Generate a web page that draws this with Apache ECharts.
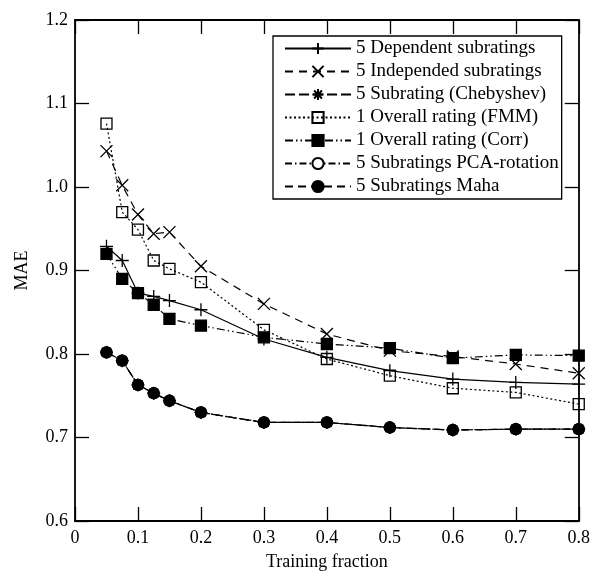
<!DOCTYPE html>
<html lang="en">
<head>
    <meta charset="UTF-8">
    <title>MAE vs training fraction</title>
    <script src="https://cdn.jsdelivr.net/npm/echarts@6/dist/echarts.min.js"></script>
    <style>
        html, body { margin: 0; padding: 0; background: #fff; }
    </style>
</head>
<body>
    <div id="main" style="width: 593px;height:576px;"></div>

    <script type="text/javascript">

        // training fractions (x)
        var fractions = [0.05, 0.075, 0.1, 0.125, 0.15, 0.2, 0.3, 0.4, 0.5, 0.6, 0.7, 0.8]

        // MAE per method
        var dependent   = [0.929, 0.912, 0.873, 0.869, 0.864, 0.853, 0.818, 0.796, 0.780, 0.770, 0.766, 0.764]
        var independent = [1.043, 1.002, 0.967, 0.944, 0.946, 0.905, 0.860, 0.824, 0.804, 0.797, 0.788, 0.777]
        var chebyshev   = [0.802, 0.792, 0.763, 0.753, 0.744, 0.730, 0.718, 0.718, 0.712, 0.709, 0.710, 0.710]
        var fmm         = [1.076, 0.970, 0.949, 0.912, 0.902, 0.886, 0.829, 0.794, 0.774, 0.759, 0.754, 0.740]
        var corr        = [0.920, 0.890, 0.873, 0.859, 0.842, 0.834, 0.820, 0.812, 0.807, 0.795, 0.799, 0.798]
        var pca         = [0.802, 0.792, 0.763, 0.753, 0.744, 0.730, 0.718, 0.718, 0.712, 0.709, 0.710, 0.710]
        var maha        = [0.802, 0.792, 0.763, 0.753, 0.744, 0.730, 0.718, 0.718, 0.712, 0.709, 0.710, 0.710]

        var names = [
            '5 Dependent subratings',
            '5 Independed subratings',
            '5 Subrating (Chebyshev)',
            '1 Overall rating (FMM)',
            '1 Overall rating (Corr)',
            '5 Subratings PCA-rotation',
            '5 Subratings Maha'
        ]

        var font = 'Liberation Serif, Times New Roman, serif'

        function pairs(ys) {
            var out = []
            for (var i = 0; i < fractions.length; i++) out.push([fractions[i], ys[i]])
            return out
        }

        // symbol + dash per series
        var styles = [
            { data: dependent,   symbol: 'path://M6 0V12M0 6H12', size: 13, fill: 'rgba(0,0,0,0)', dash: 'solid' },
            { data: independent, symbol: 'path://M0 0L12 12M12 0L0 12', size: 12, fill: 'rgba(0,0,0,0)', dash: [8, 6] },
            { data: chebyshev,   symbol: 'path://M6 0V12M0 6H12M1.8 1.8L10.2 10.2M10.2 1.8L1.8 10.2', size: 13, fill: 'rgba(0,0,0,0)', dash: [10, 4] },
            { data: fmm,         symbol: 'rect', size: 11, fill: 'rgba(255,255,255,0)', dash: [2, 2.5] },
            { data: corr,        symbol: 'rect', size: 11, fill: '#000', dash: [8, 3, 1.5, 3, 1.5, 3] },
            { data: pca,         symbol: 'circle', size: 11, fill: '#fff', dash: [7, 3, 1.5, 3] },
            { data: maha,        symbol: 'circle', size: 11, fill: '#000', dash: [8, 5] }
        ]

        var series = []
        styles.forEach(function (s, i) {
            series.push({
                name: names[i],
                type: 'line',
                data: pairs(s.data),
                symbol: s.symbol,
                symbolSize: s.size,
                showSymbol: true,
                showAllSymbol: true,
                lineStyle: { color: '#000', width: 1.2, type: s.dash },
                itemStyle: { color: s.fill, borderColor: '#000', borderWidth: 1.3 },
                emphasis: { disabled: true },
                z: 2 + i
            })
        })

        var tickStyle = { show: true, inside: true, length: 14, lineStyle: { color: '#000', width: 1.3 } }
        var axisLine = { show: true, onZero: false, lineStyle: { color: '#000', width: 1.8 } }

        var myChart = echarts.init(document.getElementById('main'))

        var option = {
            animation: false,
            backgroundColor: '#fff',
            grid: { left: 75, right: 13, top: 20, bottom: 54 },
            legend: {
                data: names,
                orient: 'vertical',
                left: 273,
                top: 36,
                padding: [3, 3, 3, 11],
                itemWidth: 66,
                itemHeight: 14,
                itemGap: 4,
                borderColor: '#000',
                borderWidth: 1.3,
                textStyle: { fontFamily: font, fontSize: 19, color: '#000' }
            },
            xAxis: [{
                type: 'value',
                min: 0, max: 0.8, interval: 0.1,
                name: 'Training fraction',
                nameLocation: 'middle',
                nameGap: 32,
                nameTextStyle: { fontFamily: font, fontSize: 18, color: '#000' },
                axisLine: axisLine,
                axisTick: tickStyle,
                splitLine: { show: false },
                axisLabel: {
                    fontFamily: font, fontSize: 18, color: '#000', margin: 8,
                    formatter: function (v) { return v === 0 ? '0' : v.toFixed(1) }
                }
            }, {
                type: 'value', position: 'top',
                min: 0, max: 0.8, interval: 0.1,
                axisLine: axisLine,
                axisTick: tickStyle,
                splitLine: { show: false },
                axisLabel: { show: false }
            }],
            yAxis: [{
                type: 'value',
                min: 0.6, max: 1.2, interval: 0.1,
                name: 'MAE',
                nameLocation: 'middle',
                nameGap: 44,
                nameTextStyle: { fontFamily: font, fontSize: 18, color: '#000' },
                axisLine: axisLine,
                axisTick: tickStyle,
                splitLine: { show: false },
                axisLabel: {
                    fontFamily: font, fontSize: 18, color: '#000', margin: 7,
                    formatter: function (v) { return v.toFixed(1) }
                }
            }, {
                type: 'value', position: 'right',
                min: 0.6, max: 1.2, interval: 0.1,
                axisLine: axisLine,
                axisTick: tickStyle,
                splitLine: { show: false },
                axisLabel: { show: false }
            }],
            series: series
        }

        myChart.setOption(option)
    </script>
</body>
</html>
